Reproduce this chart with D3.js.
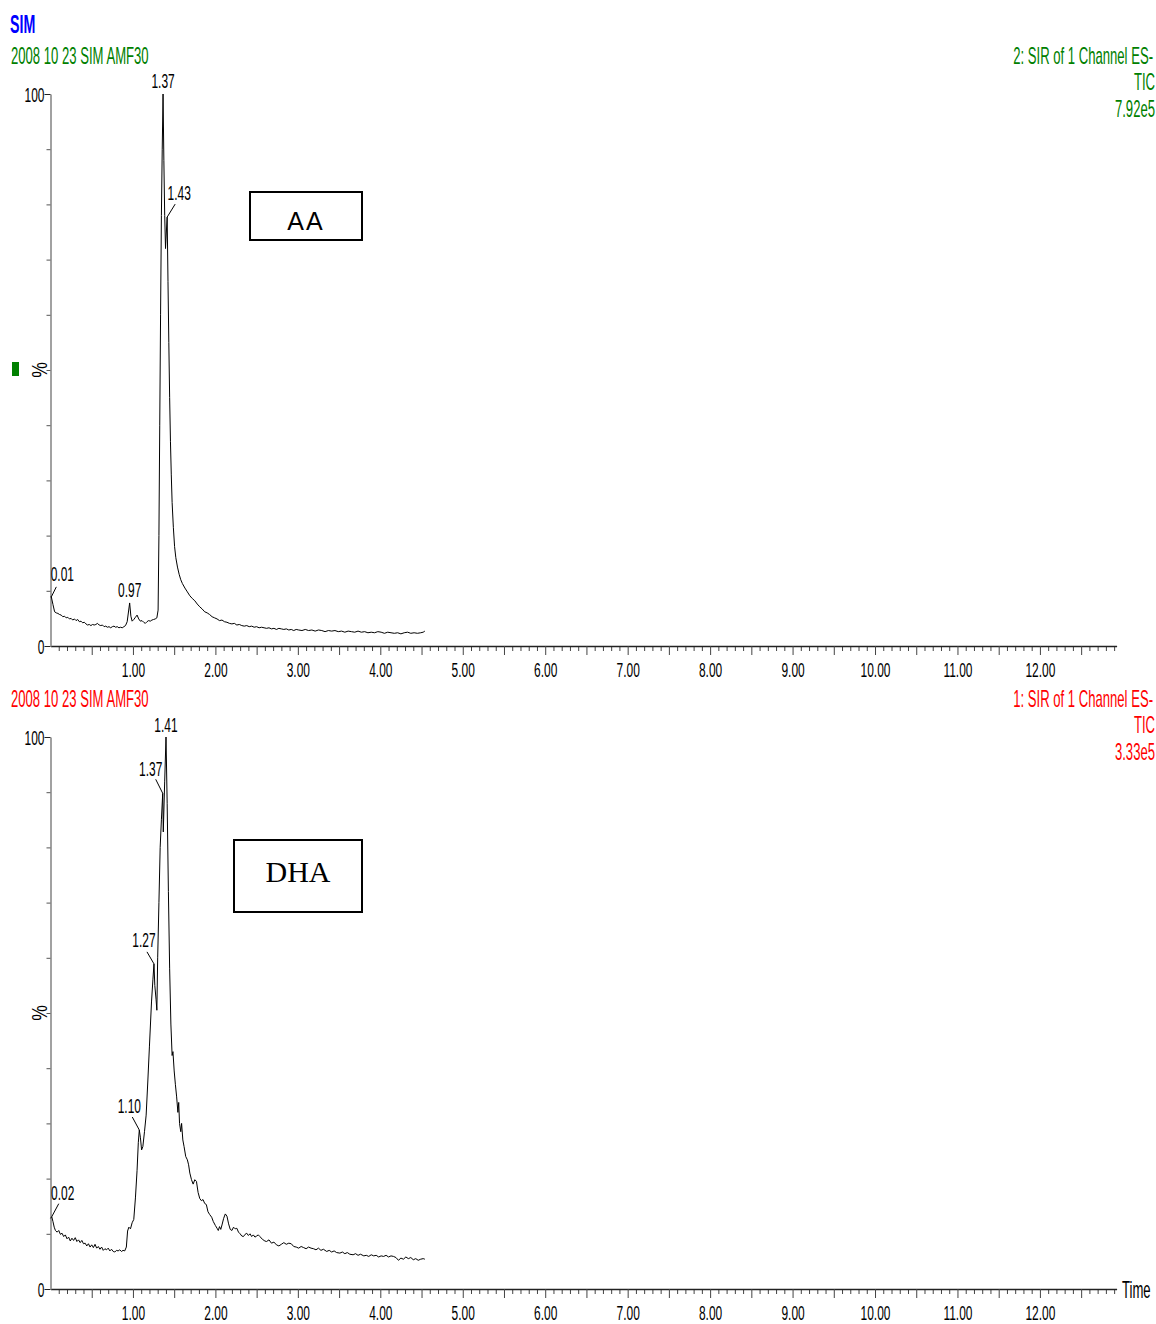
<!DOCTYPE html>
<html><head><meta charset="utf-8">
<script src="https://cdn.jsdelivr.net/npm/d3@7"></script>
<style>
html,body{margin:0;padding:0;background:#fff;}
svg{display:block;}
</style></head><body>
<svg id="chart" width="1156" height="1324"></svg>
<script>
// ---------- DATA ----------
const aaTrace = [[0.00,8.9],[0.01,8.9],[0.03,7.5],[0.05,6.2],[0.07,6.0],[0.09,5.9],[0.11,5.7],[0.13,5.6],[0.15,5.3],[0.17,5.4],[0.19,5.1],[0.21,5.2],[0.23,4.9],[0.25,5.0],[0.27,4.7],[0.29,4.9],[0.31,4.6],[0.33,4.8],[0.35,4.4],[0.37,4.5],[0.39,4.2],[0.41,4.3],[0.43,4.0],[0.45,3.8],[0.47,3.9],[0.49,3.7],[0.51,3.9],[0.53,3.8],[0.55,3.9],[0.57,4.1],[0.59,3.8],[0.61,3.7],[0.63,3.8],[0.65,3.5],[0.67,3.6],[0.69,3.4],[0.71,3.5],[0.73,3.3],[0.75,3.5],[0.77,3.6],[0.79,3.4],[0.81,3.5],[0.83,3.3],[0.85,3.4],[0.87,3.3],[0.89,3.5],[0.91,3.7],[0.93,4.4],[0.96,7.8],[0.975,5.4],[0.99,4.5],[1.01,4.8],[1.03,5.2],[1.05,5.6],[1.07,4.9],[1.09,4.5],[1.11,4.6],[1.13,4.3],[1.15,4.1],[1.17,4.4],[1.19,4.6],[1.21,4.5],[1.23,4.7],[1.25,4.8],[1.27,4.9],[1.29,5.1],[1.305,6.5],[1.315,20],[1.325,40],[1.335,60],[1.345,78],[1.355,90],[1.365,100],[1.375,88],[1.385,78],[1.395,72],[1.405,75],[1.415,77.7],[1.425,66],[1.435,55],[1.445,45],[1.455,37],[1.465,31],[1.475,26],[1.49,21.5],[1.505,18.0],[1.52,16.0],[1.54,14.3],[1.56,13.0],[1.58,12.0],[1.60,11.3],[1.63,10.5],[1.66,9.8],[1.69,9.1],[1.72,8.6],[1.75,8.2],[1.78,7.6],[1.81,7.1],[1.84,6.7],[1.87,6.2],[1.90,6.0],[1.93,5.7],[1.96,5.3],[1.99,5.1],[2.02,4.9],[2.05,4.6],[2.08,4.7],[2.11,4.4],[2.14,4.3],[2.17,4.1],[2.20,4.0],[2.23,4.1],[2.26,3.8],[2.29,3.9],[2.32,3.7],[2.35,3.6],[2.38,3.7],[2.41,3.5],[2.44,3.6],[2.47,3.4],[2.50,3.5],[2.53,3.3],[2.56,3.4],[2.59,3.3],[2.62,3.2],[2.65,3.3],[2.68,3.1],[2.71,3.2],[2.74,3.0],[2.77,3.2],[2.80,3.1],[2.83,3.0],[2.86,3.1],[2.89,2.9],[2.92,3.0],[2.95,2.8],[2.98,3.0],[3.01,2.9],[3.05,2.8],[3.09,3.0],[3.13,2.8],[3.17,2.9],[3.21,2.7],[3.25,2.9],[3.29,2.8],[3.33,2.6],[3.37,2.8],[3.41,2.7],[3.45,2.8],[3.49,2.6],[3.53,2.7],[3.57,2.5],[3.61,2.7],[3.65,2.6],[3.69,2.5],[3.73,2.7],[3.77,2.5],[3.81,2.6],[3.85,2.4],[3.89,2.5],[3.93,2.4],[3.97,2.6],[4.01,2.5],[4.05,2.3],[4.09,2.5],[4.13,2.4],[4.17,2.3],[4.21,2.4],[4.25,2.2],[4.29,2.4],[4.33,2.5],[4.37,2.3],[4.41,2.4],[4.45,2.3],[4.49,2.4],[4.52,2.5],[4.54,2.7]];

const dhaTrace = [[0.00,12.8],[0.015,13.1],[0.03,12.2],[0.045,11.2],[0.06,10.6],[0.08,10.3],[0.10,10.6],[0.12,9.9],[0.14,10.1],[0.16,9.5],[0.18,9.8],[0.20,9.1],[0.22,9.4],[0.24,8.7],[0.26,9.2],[0.28,8.8],[0.30,9.3],[0.32,8.6],[0.34,8.9],[0.36,8.4],[0.38,8.8],[0.40,8.2],[0.42,8.3],[0.44,7.8],[0.46,8.2],[0.48,7.6],[0.50,8.0],[0.52,7.5],[0.54,8.1],[0.56,7.4],[0.58,7.7],[0.60,7.2],[0.62,7.6],[0.64,7.0],[0.66,7.3],[0.68,7.1],[0.70,7.4],[0.72,6.9],[0.74,7.2],[0.76,6.8],[0.78,6.7],[0.80,7.0],[0.82,6.9],[0.84,7.1],[0.86,6.8],[0.88,7.0],[0.90,6.9],[0.92,7.6],[0.935,10.5],[0.95,11.2],[0.97,10.9],[0.99,12.0],[1.01,12.6],[1.03,16.5],[1.05,21.5],[1.065,26.5],[1.077,28.8],[1.09,27.5],[1.105,25.2],[1.12,25.8],[1.14,28.5],[1.16,31.5],[1.18,37.5],[1.20,44.0],[1.225,52.0],[1.242,56.0],[1.255,58.9],[1.265,55.0],[1.28,52.5],[1.29,50.5],[1.30,60.0],[1.315,70.0],[1.33,80.0],[1.345,85.0],[1.361,89.8],[1.368,82.8],[1.385,92.0],[1.401,100],[1.415,88.0],[1.43,72.0],[1.445,58.0],[1.46,48.0],[1.475,42.3],[1.485,43.0],[1.50,39.5],[1.515,37.0],[1.53,34.8],[1.545,32.0],[1.555,33.8],[1.565,30.0],[1.58,28.5],[1.59,30.0],[1.605,27.0],[1.62,25.8],[1.64,24.0],[1.66,23.4],[1.675,22.5],[1.69,21.0],[1.71,19.8],[1.73,19.0],[1.75,19.8],[1.77,19.5],[1.79,17.5],[1.81,16.4],[1.83,16.0],[1.85,16.2],[1.87,15.5],[1.89,15.3],[1.91,14.0],[1.93,13.5],[1.955,13.0],[1.975,12.2],[2.00,11.5],[2.02,11.0],[2.035,10.6],[2.05,11.3],[2.065,10.8],[2.08,11.6],[2.10,12.8],[2.12,13.6],[2.14,13.2],[2.16,11.8],[2.18,10.8],[2.20,10.6],[2.22,11.2],[2.24,10.9],[2.26,11.0],[2.28,10.3],[2.30,10.0],[2.32,9.6],[2.34,9.5],[2.36,9.9],[2.38,10.1],[2.40,9.7],[2.42,10.0],[2.44,9.5],[2.46,9.8],[2.48,9.4],[2.50,9.6],[2.52,9.8],[2.54,9.5],[2.57,9.0],[2.60,8.7],[2.62,8.6],[2.65,8.9],[2.68,8.3],[2.71,8.5],[2.74,8.0],[2.77,7.8],[2.80,8.1],[2.83,8.4],[2.86,8.1],[2.89,8.3],[2.92,8.2],[2.95,7.7],[2.98,7.6],[3.01,7.4],[3.04,7.7],[3.07,7.5],[3.10,7.3],[3.13,7.6],[3.16,7.4],[3.19,7.3],[3.22,7.1],[3.25,7.4],[3.28,7.0],[3.31,7.2],[3.35,6.8],[3.38,7.0],[3.41,6.7],[3.44,6.9],[3.47,6.6],[3.51,6.5],[3.54,6.7],[3.57,6.4],[3.60,6.6],[3.63,6.3],[3.67,6.2],[3.70,6.4],[3.73,6.1],[3.76,6.3],[3.80,6.0],[3.83,6.1],[3.86,5.9],[3.89,6.2],[3.92,6.0],[3.95,6.1],[3.98,5.8],[4.01,6.0],[4.04,5.9],[4.07,6.1],[4.10,5.8],[4.13,6.0],[4.16,5.9],[4.19,5.7],[4.22,5.2],[4.25,5.6],[4.28,5.4],[4.31,5.8],[4.34,5.5],[4.37,5.7],[4.40,5.3],[4.43,5.5],[4.46,5.2],[4.49,5.4],[4.52,5.5],[4.54,5.4]];

const aaPeakTimes  = [0.01, 0.96, 1.365, 1.415];
const aaPeakPct    = [8.9, 7.8, 100, 77.7];
const aaPeakLabels = ["0.01", "0.97", "1.37", "1.43"];

const dhaPeakTimes  = [0.015, 1.077, 1.255, 1.361, 1.401];
const dhaPeakPct    = [13.1, 28.8, 58.9, 89.8, 100];
const dhaPeakLabels = ["0.02", "1.10", "1.27", "1.37", "1.41"];

const xLabelValues = [1,2,3,4,5,6,7,8,9,10,11,12];
const xTickLabels  = ["1.00","2.00","3.00","4.00","5.00","6.00","7.00","8.00","9.00","10.00","11.00","12.00"];
const yLabelValues = [0, 100];
const yTickLabels  = ["0", "100"];

const titleText = "SIM";
const aaHeader  = ["2008 10 23 SIM AMF30", "2: SIR of 1 Channel ES-", "TIC", "7.92e5"];
const dhaHeader = ["2008 10 23 SIM AMF30", "1: SIR of 1 Channel ES-", "TIC", "3.33e5"];
const boxLabels = ["AA", "DHA"];

// ---------- DRAWING ----------
const FONT = "'Liberation Sans', Arial, sans-serif";
const SX = 0.57;
const svg = d3.select("#chart");

function addText(g, x, y, s, o = {}) {
  return g.append("text")
    .attr("transform", `translate(${x},${y}) scale(${o.sx ?? SX},1)`)
    .attr("text-anchor", o.anchor || "start")
    .attr("font-family", o.font || FONT)
    .attr("font-size", o.size || 21)
    .attr("font-weight", o.weight || "normal")
    .attr("fill", o.fill || "#000")
    .text(s);
}

const x = d3.scaleLinear().domain([0, 12.93]).range([50.5, 1116.6]);

function drawPanel(cfg) {
  const g = svg.append("g");
  const y = d3.scaleLinear().domain([0, 100]).range([cfg.y0, cfg.y100]);

  // x axis: minor ticks every 0.1, major every 0.5, labels on whole minutes
  const minor = d3.range(1, 130).map(i => i / 10).filter(v => Math.abs(v * 2 - Math.round(v * 2)) > 1e-6);
  const major = d3.range(1, 26).map(i => i / 2);
  const gxMinor = g.append("g").attr("transform", `translate(0,${cfg.y0})`)
    .call(d3.axisBottom(x).tickValues(minor).tickSize(5).tickSizeOuter(0).tickFormat(""));
  gxMinor.select(".domain").remove();
  const gx = g.append("g").attr("transform", `translate(0,${cfg.y0})`)
    .call(d3.axisBottom(x).tickValues(major).tickSize(9).tickSizeOuter(0)
      .tickFormat(d => { const i = xLabelValues.indexOf(d); return i >= 0 ? xTickLabels[i] : ""; }));
  gx.select(".domain").attr("stroke", "#222").attr("stroke-width", 1.6);
  g.selectAll(".tick line").attr("stroke", "#444").attr("stroke-width", 1);
  gx.selectAll(".tick text")
    .attr("font-family", FONT).attr("font-size", 21).attr("fill", "#000")
    .attr("y", 0).attr("dy", 0)
    .attr("transform", `translate(0,31) scale(${SX},1)`);

  // y axis
  const gyMinor = g.append("g").attr("transform", "translate(50.5,0)")
    .call(d3.axisLeft(y).tickValues(d3.range(10, 100, 10)).tickSize(4).tickSizeOuter(0).tickFormat(""));
  gyMinor.select(".domain").attr("stroke", "#8a8a8a").attr("stroke-width", 1.6);
  gyMinor.selectAll(".tick line").attr("stroke", "#555");
  const gy = g.append("g").attr("transform", "translate(50.5,0)")
    .call(d3.axisLeft(y).tickValues(yLabelValues).tickSize(6).tickSizeOuter(0)
      .tickFormat(d => yTickLabels[yLabelValues.indexOf(d)]));
  gy.select(".domain").remove();
  gy.selectAll(".tick line").attr("stroke", "#222");
  gy.selectAll(".tick text")
    .attr("font-family", FONT).attr("font-size", 21).attr("fill", "#000")
    .attr("x", 0).attr("dy", 0)
    .attr("transform", `translate(-6,7.5) scale(${SX},1)`);

  // % label (rotated)
  g.append("text")
    .attr("transform", `translate(47,${(cfg.y0 + cfg.y100) / 2}) rotate(-90) scale(0.8,1)`)
    .attr("text-anchor", "middle").attr("font-family", FONT).attr("font-size", 22).attr("fill", "#000")
    .text("%");

  // trace
  const line = d3.line().x(d => x(d[0])).y(d => y(d[1]));
  g.append("path").datum(cfg.trace)
    .attr("d", line).attr("fill", "none").attr("stroke", "#000").attr("stroke-width", 1)
    .attr("stroke-linejoin", "round");

  // peak labels
  cfg.peakTimes.forEach((t, i) => {
    const px = x(t), py = y(cfg.peakPct[i]);
    const L = cfg.layout[i];
    addText(g, px + L.dx, py + L.dy, cfg.peakLabels[i], { anchor: "middle", size: 21 });
    if (L.lead) {
      g.append("line").attr("x1", px).attr("y1", py).attr("x2", px + L.lead[0]).attr("y2", py + L.lead[1])
        .attr("stroke", "#000").attr("stroke-width", 1);
    }
  });

  // headers
  addText(g, 11, cfg.hdrY, cfg.header[0], { size: 23, fill: cfg.color });
  addText(g, 1153, cfg.hdrY, cfg.header[1], { size: 23, fill: cfg.color, anchor: "end" });
  addText(g, 1155, cfg.hdrY + 26, cfg.header[2], { size: 23, fill: cfg.color, anchor: "end" });
  addText(g, 1155, cfg.hdrY + 53, cfg.header[3], { size: 23, fill: cfg.color, anchor: "end" });

  // compound box
  const b = cfg.box;
  g.append("rect").attr("x", b.x).attr("y", b.y).attr("width", b.w).attr("height", b.h)
    .attr("fill", "#fff").attr("stroke", "#000").attr("stroke-width", 2);
  g.append("text").attr("x", b.x + b.w / 2).attr("y", b.base)
    .attr("text-anchor", "middle").attr("font-family", b.font).attr("font-size", b.size)
    .attr("letter-spacing", b.ls || 0).attr("fill", "#000").text(b.text);
  return g;
}

// title
addText(svg, 10, 33, titleText, { size: 25, weight: "bold", fill: "#0000ff" });
// green marker
svg.append("rect").attr("x", 12).attr("y", 362).attr("width", 7).attr("height", 14).attr("fill", "#008000");

drawPanel({
  y0: 646, y100: 94, trace: aaTrace, color: "#008000", hdrY: 64, header: aaHeader,
  peakTimes: aaPeakTimes, peakPct: aaPeakPct, peakLabels: aaPeakLabels,
  layout: [
    { dx: 11, dy: -16, lead: [5, -10] },
    { dx: 0, dy: -6 },
    { dx: 0, dy: -6 },
    { dx: 12, dy: -17, lead: [8, -13] }
  ],
  box: { x: 250, y: 192, w: 112, h: 48, base: 230, text: boxLabels[0], font: "'Liberation Sans', Arial, sans-serif", size: 25, ls: 2 }
});

drawPanel({
  y0: 1289, y100: 737, trace: dhaTrace, color: "#ff0000", hdrY: 707, header: dhaHeader,
  peakTimes: dhaPeakTimes, peakPct: dhaPeakPct, peakLabels: dhaPeakLabels,
  layout: [
    { dx: 11, dy: -17, lead: [7, -13] },
    { dx: -10, dy: -17, lead: [-7, -13] },
    { dx: -10, dy: -17, lead: [-7, -12] },
    { dx: -12, dy: -17, lead: [-7, -14] },
    { dx: 0, dy: -5 }
  ],
  box: { x: 234, y: 840, w: 128, h: 72, base: 882, text: boxLabels[1], font: "'Liberation Serif', 'Times New Roman', serif", size: 30 }
});

// Time label
addText(svg, 1122, 1298, "Time", { size: 23 });
</script>
</body></html>
